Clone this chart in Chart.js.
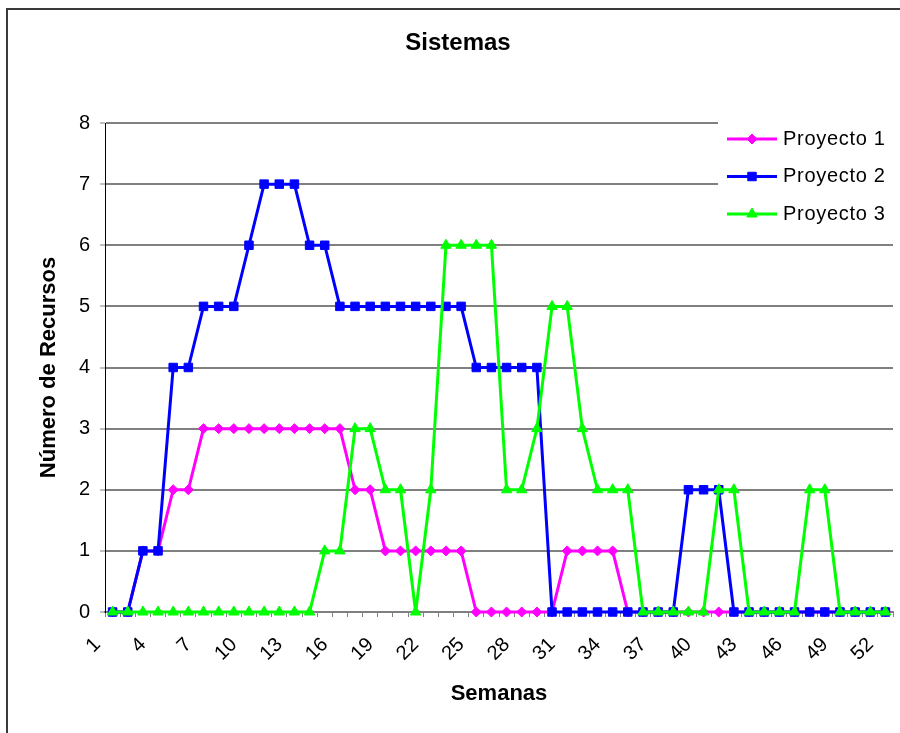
<!DOCTYPE html>
<html>
<head>
<meta charset="utf-8">
<title>Sistemas</title>
<script src="https://cdn.jsdelivr.net/npm/chart.js@4.4.1/dist/chart.umd.min.js"></script>
<style>
  html, body { margin: 0; padding: 0; background: #ffffff; }
  canvas { display: block; }
</style>
</head>
<body>
<canvas id="chart" width="900" height="733"></canvas>
<script>
// Weeks of the year (categories on the x axis)
const weeks = ['1','2','3','4','5','6','7','8','9','10','11','12','13','14','15','16','17','18',
  '19','20','21','22','23','24','25','26','27','28','29','30','31','32','33','34','35','36',
  '37','38','39','40','41','42','43','44','45','46','47','48','49','50','51','52'];

// Week labels written under the axis
const weekTicks = ['1','4','7','10','13','16','19','22','25','28','31','34','37','40','43','46','49','52'];

// Resources assigned per week to each project
const proyecto1 = [0,0,1,1,2,2,3,3,3,3,3,3,3,3,3,3,2,2,1,1,1,1,1,1,0,0,
  0,0,0,0,1,1,1,1,0,0,0,0,0,0,0,0,0,0,0,0,0,0,0,0,0,0];
const proyecto2 = [0,0,1,1,4,4,5,5,5,6,7,7,7,6,6,5,5,5,5,5,5,5,5,5,4,4,
  4,4,4,0,0,0,0,0,0,0,0,0,2,2,2,0,0,0,0,0,0,0,0,0,0,0];
const proyecto3 = [0,0,0,0,0,0,0,0,0,0,0,0,0,0,1,1,3,3,2,2,0,2,6,6,6,6,
  2,2,3,5,5,3,2,2,2,0,0,0,0,0,2,2,0,0,0,0,2,2,0,0,0,0];

const seriesNames = ['Proyecto 1', 'Proyecto 2', 'Proyecto 3'];
const yTicks = [0, 1, 2, 3, 4, 5, 6, 7, 8];

const FONT = '"Liberation Sans", Arial, Helvetica, sans-serif';

// White page with the dark frame on the top and left edges
const framePlugin = {
  id: 'frame',
  beforeDraw(chart) {
    const ctx = chart.ctx;
    ctx.save();
    ctx.fillStyle = '#ffffff';
    ctx.fillRect(0, 0, chart.width, chart.height);
    ctx.strokeStyle = '#3a3a3a';
    ctx.lineWidth = 2;
    ctx.beginPath();
    ctx.moveTo(7, chart.height + 2);
    ctx.lineTo(7, 9);
    ctx.lineTo(chart.width + 2, 9);
    ctx.stroke();
    ctx.restore();
  }
};

// Legend box sitting over the upper right corner of the plot
const sideLegend = {
  id: 'sideLegend',
  afterDatasetsDraw(chart) {
    const ctx = chart.ctx;
    const boxLeft = 718, boxTop = 114, boxRight = 895, boxBottom = 236;
    ctx.save();
    ctx.fillStyle = '#ffffff';
    ctx.fillRect(boxLeft, boxTop, boxRight - boxLeft, boxBottom - boxTop);
    chart.data.datasets.forEach((ds, i) => {
      const y = 139 + i * 37.5;
      ctx.strokeStyle = ds.borderColor;
      ctx.lineWidth = ds.borderWidth;
      ctx.beginPath();
      ctx.moveTo(727, y);
      ctx.lineTo(777, y);
      ctx.stroke();
      ctx.fillStyle = ds.pointBackgroundColor;
      ctx.strokeStyle = ds.pointBorderColor;
      ctx.lineWidth = ds.pointBorderWidth;
      Chart.helpers.drawPoint(ctx, {
        pointStyle: ds.pointStyle,
        radius: ds.pointRadius,
        rotation: 0,
        borderWidth: ds.pointBorderWidth
      }, 752, y);
      ctx.fillStyle = '#000000';
      ctx.font = '20px ' + FONT;
      if ('letterSpacing' in ctx) ctx.letterSpacing = '0.7px';
      ctx.textAlign = 'left';
      ctx.textBaseline = 'middle';
      ctx.fillText(ds.label, 783, y);
    });
    ctx.restore();
  }
};

function lineSeries(label, data, color, style, radius, order) {
  return {
    label: label,
    data: data,
    borderColor: color,
    backgroundColor: color,
    pointBackgroundColor: color,
    pointBorderColor: color,
    pointBorderWidth: 1,
    pointStyle: style,
    pointRadius: radius,
    pointHoverRadius: radius,
    borderWidth: 3,
    borderJoinStyle: 'round',
    tension: 0,
    fill: false,
    clip: false,
    order: order
  };
}

new Chart(document.getElementById('chart'), {
  type: 'line',
  data: {
    labels: weeks,
    datasets: [
      lineSeries(seriesNames[0], proyecto1, '#FF00FF', 'rectRot', 5, 3),
      lineSeries(seriesNames[1], proyecto2, '#0000FF', 'rect', 6, 2),
      lineSeries(seriesNames[2], proyecto3, '#00FF00', 'triangle', 6, 1)
    ]
  },
  options: {
    responsive: false,
    animation: false,
    devicePixelRatio: 1,
    events: [],
    layout: { padding: { left: 19, right: 3, top: 0, bottom: 0 } },
    plugins: {
      legend: { display: false },
      tooltip: { enabled: false },
      title: {
        display: true,
        text: 'Sistemas',
        color: '#000000',
        font: { family: FONT, size: 24, weight: 'bold', lineHeight: 1.2 },
        padding: { top: 29, bottom: 65.2 }
      }
    },
    scales: {
      x: {
        type: 'category',
        offset: true,
        grid: {
          offset: true,
          drawOnChartArea: false,
          drawTicks: true,
          tickLength: 5,
          color: '#808080',
          lineWidth: 1
        },
        border: { display: true, color: '#808080', width: 2 },
        ticks: {
          autoSkip: false,
          minRotation: 45,
          maxRotation: 45,
          padding: 16,
          labelOffset: -15,
          color: '#000000',
          font: { family: FONT, size: 20 },
          callback: function (value) {
            const lab = this.getLabelForValue(value);
            return weekTicks.includes(lab) ? lab : '';
          }
        },
        title: {
          display: true,
          text: 'Semanas',
          color: '#000000',
          font: { family: FONT, size: 22, weight: 'bold', lineHeight: 1.2 },
          padding: { top: 0, bottom: 26 }
        },
        afterFit(scale) {
          scale.height = 121;
          scale.paddingLeft = 0;
          scale.paddingRight = 0;
        }
      },
      y: {
        min: yTicks[0],
        max: yTicks[yTicks.length - 1],
        grid: {
          color: '#808080',
          lineWidth: 2,
          tickLength: 5,
          tickColor: '#808080',
          tickWidth: 1
        },
        border: { display: true, color: '#000000', width: 1 },
        ticks: {
          stepSize: 1,
          padding: 10,
          color: '#000000',
          font: { family: FONT, size: 20 }
        },
        title: {
          display: true,
          text: 'Número de Recursos',
          color: '#000000',
          font: { family: FONT, size: 22, weight: 'bold', lineHeight: 1.2 },
          padding: { top: 17, bottom: 0 }
        },
        afterFit(scale) { scale.width = 86; }
      }
    }
  },
  plugins: [framePlugin, sideLegend]
});
</script>
</body>
</html>
